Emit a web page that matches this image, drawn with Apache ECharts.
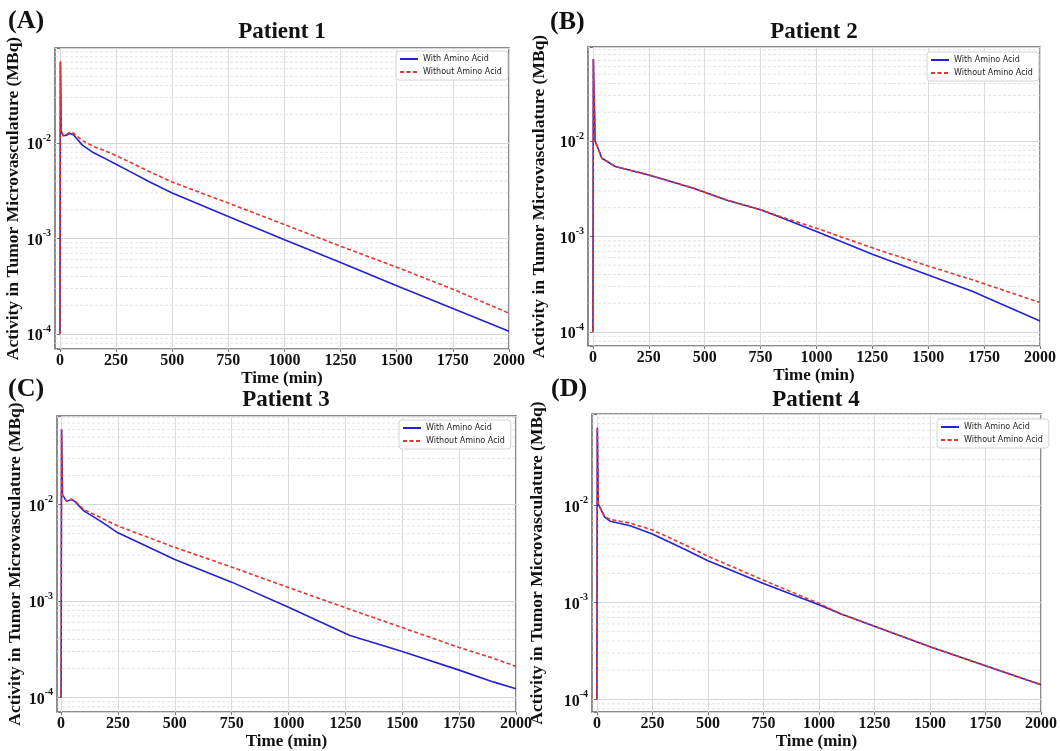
<!DOCTYPE html>
<html><head><meta charset="utf-8">
<script src="https://cdn.jsdelivr.net/npm/echarts@6/dist/echarts.min.js"></script>
<style>html,body{margin:0;padding:0;background:#fff}#c{width:1060px;height:751px}</style>
</head><body><div id="c"></div>
<script>
// ---- data ----
const xTicks = [0, 250, 500, 750, 1000, 1250, 1500, 1750, 2000];
const yMinorGrid = [8e-5, 9e-5, 2e-4, 3e-4, 4e-4, 5e-4, 6e-4, 7e-4, 8e-4, 9e-4,
  2e-3, 3e-3, 4e-3, 5e-3, 6e-3, 7e-3, 8e-3, 9e-3, 2e-2, 3e-2, 4e-2, 5e-2, 6e-2, 7e-2, 8e-2, 9e-2];

const timeA    = [0, 2, 6, 15, 30, 45, 60, 100, 150, 200, 250, 300, 400, 500, 750, 1000, 1250, 1500, 1750, 2000];
const withA    = [1e-4, 0.070, 0.0132, 0.0119, 0.0121, 0.0126, 0.0122, 0.0095, 0.0079, 0.0069, 0.0060, 0.0052, 0.0039, 0.0030, 0.0017, 0.00097, 0.00056, 0.00032, 0.000185, 0.000107];
const withoutA = [1e-4, 0.072, 0.0134, 0.0120, 0.0123, 0.0130, 0.0127, 0.0106, 0.0092, 0.0083, 0.0074, 0.0065, 0.0050, 0.0039, 0.00235, 0.00140, 0.00083, 0.00050, 0.000295, 0.000165];

const timeB    = [0, 2, 10, 40, 100, 250, 450, 600, 750, 850, 1000, 1250, 1500, 1700, 1750, 2000];
const withB    = [1e-4, 0.072, 0.0100, 0.0066, 0.0054, 0.0044, 0.0032, 0.0024, 0.0019, 0.00155, 0.00113, 0.00065, 0.000395, 0.000265, 0.000235, 0.00013];
const withoutB = [1e-4, 0.072, 0.0100, 0.0066, 0.0054, 0.0044, 0.0032, 0.0024, 0.0019, 0.00158, 0.00122, 0.00076, 0.00049, 0.00035, 0.00032, 0.000203];

const timeC    = [0, 2, 6, 25, 45, 60, 100, 175, 250, 500, 750, 1000, 1270, 1500, 1750, 1900, 2000];
const withC    = [1e-4, 0.060, 0.0126, 0.0108, 0.0113, 0.0108, 0.0086, 0.0067, 0.0051, 0.0027, 0.00157, 0.00086, 0.00044, 0.00030, 0.000192, 0.000145, 0.000123];
const withoutC = [1e-4, 0.060, 0.0126, 0.0108, 0.0114, 0.0110, 0.0089, 0.0073, 0.0060, 0.0036, 0.00225, 0.00138, 0.00082, 0.00053, 0.00033, 0.000255, 0.00021];

const timeD    = [0, 2, 6, 35, 60, 150, 250, 400, 500, 750, 1000, 1100, 1250, 1500, 1750, 2000];
const withD    = [1e-4, 0.0636, 0.0104, 0.0076, 0.0069, 0.0062, 0.0051, 0.0035, 0.0027, 0.00157, 0.00095, 0.00076, 0.00057, 0.00035, 0.000222, 0.000142];
const withoutD = [1e-4, 0.0636, 0.0104, 0.0077, 0.0072, 0.0066, 0.0056, 0.0039, 0.0030, 0.00170, 0.00098, 0.00076, 0.00057, 0.00035, 0.000222, 0.000142];

const seriesNames = ['With Amino Acid', 'Without Amino Acid'];
const xName = 'Time (min)';
const yName = 'Activity in Tumor Microvasculature (MBq)';

// ---- layout ----
const panels = [
  {tag: '(A)', title: 'Patient 1', t: timeA, w: withA, wo: withoutA,
   grid: {left: 55, top: 48, width: 454, height: 301}, xMin: -22, yLog: [-4.157, -1.005],
   legend: [396, 51], tagPos: [8, 21], titlePos: [282, 32], yGap: 31},
  {tag: '(B)', title: 'Patient 2', t: timeB, w: withB, wo: withoutB,
   grid: {left: 588, top: 47, width: 452, height: 299}, xMin: -22, yLog: [-4.147, -1.016],
   legend: [927, 52], tagPos: [550, 22], titlePos: [814, 32], yGap: 40},
  {tag: '(C)', title: 'Patient 3', t: timeC, w: withC, wo: withoutC,
   grid: {left: 57, top: 416, width: 459, height: 305}, xMin: -18, yLog: [-4.152, -1.081],
   legend: [399, 420], tagPos: [8, 389], titlePos: [286, 400], yGap: 31},
  {tag: '(D)', title: 'Patient 4', t: timeD, w: withD, wo: withoutD,
   grid: {left: 592, top: 414, width: 460, height: 307}, xMin: -22, yLog: [-4.131, -1.055],
   legend: [937, 419], tagPos: [551, 389], titlePos: [816, 400], yGap: 46}
];

const serif = '"Liberation Serif", "Times New Roman", serif';
const blue = '#2323d2';
const red = '#e4352f';

// minor horizontal grid lines as one broken line per panel (values from yMinorGrid)
function minorGridData(xMin) {
  const out = [];
  yMinorGrid.forEach(v => { out.push([xMin, v], [2000, v], [1000, '-']); });
  return out;
}

const option = {
  animation: false,
  backgroundColor: '#fff',
  grid: panels.map(p => Object.assign({show: true, borderColor: '#666', borderWidth: 1.5, backgroundColor: 'transparent'}, p.grid)),
  xAxis: panels.map((p, i) => ({
    type: 'value', gridIndex: i, min: p.xMin, max: 2000,
    name: xName, nameLocation: 'middle', nameGap: 15,
    nameTextStyle: {fontFamily: serif, fontWeight: 'bold', fontSize: 17, color: '#111'},
    axisLine: {show: false},
    axisTick: {show: true, length: 3, lineStyle: {color: '#777'}, customValues: xTicks},
    axisLabel: {customValues: xTicks, margin: 4, formatter: v => String(v),
      fontFamily: serif, fontWeight: 'bold', fontSize: 16, color: '#111'},
    splitLine: {show: true, lineStyle: {color: '#dcdcdc', width: 1}}
  })),
  yAxis: panels.map((p, i) => ({
    type: 'log', logBase: 10, gridIndex: i,
    min: Math.pow(10, p.yLog[0]), max: Math.pow(10, p.yLog[1]),
    name: yName, nameLocation: 'middle', nameGap: p.yGap,
    nameTextStyle: {fontFamily: serif, fontWeight: 'bold', fontSize: 17.5, color: '#111'},
    axisLine: {show: false},
    axisTick: {show: true, length: 3, lineStyle: {color: '#777'}},
    axisLabel: {
      margin: 4,
      formatter: v => {
        const e = Math.log10(v), r = Math.round(e);
        return Math.abs(e - r) < 1e-6 ? '{b|10}{s|' + r + '}' : '';
      },
      rich: {
        b: {fontFamily: serif, fontWeight: 'bold', fontSize: 16, color: '#111', lineHeight: 20, verticalAlign: 'bottom'},
        s: {fontFamily: serif, fontWeight: 'bold', fontSize: 10, color: '#111', lineHeight: 20, verticalAlign: 'top'}
      }
    },
    splitLine: {show: true, lineStyle: {color: '#d6d6d6', width: 1}}
  })),
  legend: panels.map(p => ({
    data: seriesNames, orient: 'vertical', left: p.legend[0], top: p.legend[1],
    itemWidth: 18, itemHeight: 8, itemGap: 5, padding: [4, 6, 4, 3],
    backgroundColor: '#fff', borderColor: '#d4d4d4', borderWidth: 1, borderRadius: 3,
    selectedMode: false,
    itemStyle: {opacity: 0},
    textStyle: {fontFamily: '"DejaVu Sans", sans-serif', fontSize: 8, color: '#222'}
  })),
  graphic: panels.flatMap(p => [
    {type: 'text', x: p.tagPos[0], y: p.tagPos[1], silent: true,
     style: {text: p.tag, fill: '#111', font: 'bold 26px ' + serif, align: 'left', verticalAlign: 'middle'}},
    {type: 'text', x: p.titlePos[0], y: p.titlePos[1], silent: true,
     style: {text: p.title, fill: '#111', font: 'bold 23px ' + serif, align: 'center', verticalAlign: 'middle'}}
  ]),
  series: panels.flatMap((p, i) => [
    {type: 'line', name: 'minor grid', xAxisIndex: i, yAxisIndex: i, silent: true, z: 1,
     data: minorGridData(p.xMin), connectNulls: false, symbol: 'none', showSymbol: false,
     lineStyle: {color: '#dcdcdc', width: 0.8, type: [3, 2]}, emphasis: {disabled: true}},
    {type: 'line', name: seriesNames[0], xAxisIndex: i, yAxisIndex: i, z: 3,
     data: p.t.map((t, k) => [t, p.w[k]]), symbol: 'none', showSymbol: false,
     lineStyle: {color: blue, width: 1.6}, itemStyle: {color: blue}},
    {type: 'line', name: seriesNames[1], xAxisIndex: i, yAxisIndex: i, z: 4,
     data: p.t.map((t, k) => [t, p.wo[k]]), symbol: 'none', showSymbol: false,
     lineStyle: {color: red, width: 1.6, type: [4, 2.5]}, itemStyle: {color: red}}
  ])
};

const chart = echarts.init(document.getElementById('c'));
chart.setOption(option);
</script>
</body></html>
